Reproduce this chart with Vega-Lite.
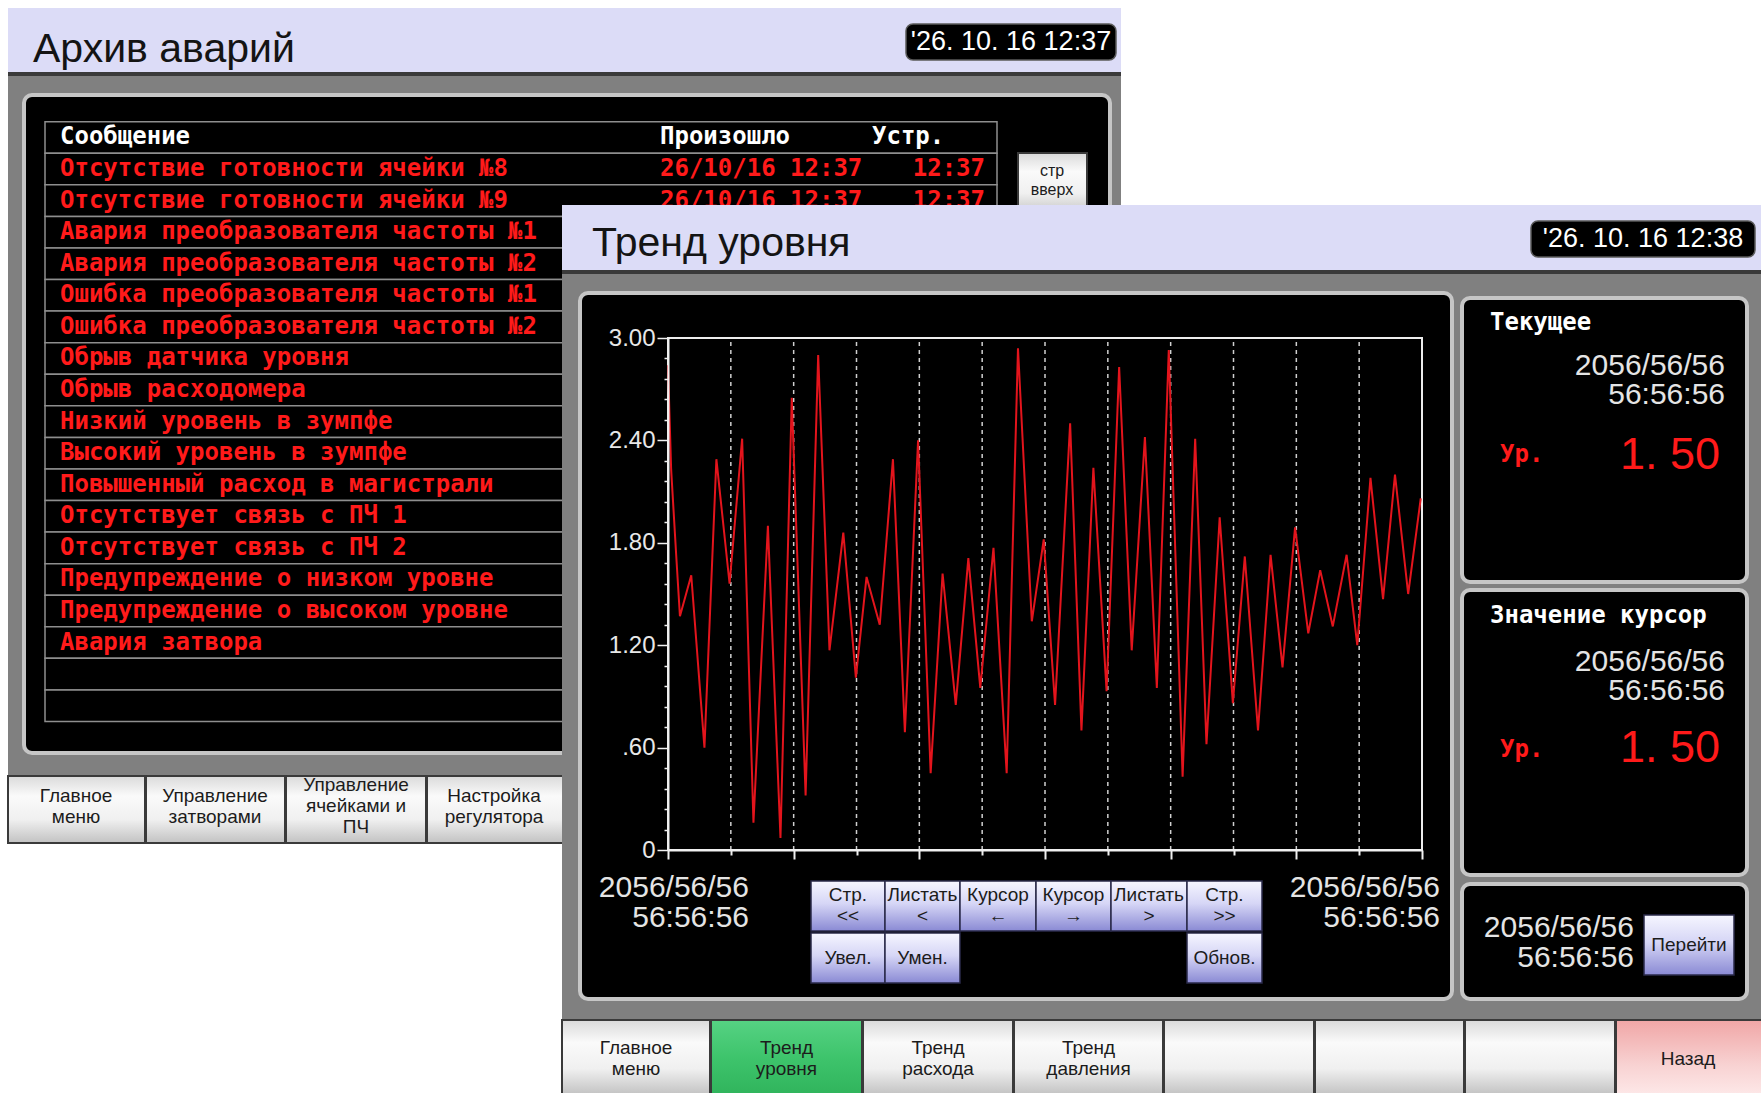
{
  "$schema": "https://vega.github.io/schema/vega-lite/v6.json",
  "width": 1761,
  "height": 1093,
  "padding": 0,
  "autosize": {"type": "none"},
  "background": "#ffffff",
  "config": {"view": {"stroke": null}},
  "datasets": {
    "boxes": [
      {"w": "a", "k": "lav", "x0": 8, "x1": 1121, "y0": 8, "y1": 73},
      {"w": "a", "k": "dark", "x0": 8, "x1": 1121, "y0": 72, "y1": 76},
      {"w": "a", "k": "gray", "x0": 8, "x1": 1121, "y0": 76, "y1": 843},
      {"w": "a", "k": "panel", "x0": 24, "x1": 1110, "y0": 95, "y1": 753},
      {"w": "a", "k": "date", "x0": 906, "x1": 1116, "y0": 24, "y1": 60},
      {"w": "a", "k": "gbtn", "x0": 1018, "x1": 1087, "y0": 153, "y1": 215},
      {"w": "a", "k": "gbtn", "x0": 8, "x1": 145, "y0": 776, "y1": 843},
      {"w": "a", "k": "gbtn", "x0": 146, "x1": 285, "y0": 776, "y1": 843},
      {"w": "a", "k": "gbtn", "x0": 286, "x1": 426, "y0": 776, "y1": 843},
      {"w": "a", "k": "gbtn", "x0": 427, "x1": 566, "y0": 776, "y1": 843},
      {"w": "b", "k": "lav", "x0": 562, "x1": 1761, "y0": 205, "y1": 271},
      {"w": "b", "k": "dark", "x0": 562, "x1": 1761, "y0": 270, "y1": 274},
      {"w": "b", "k": "gray", "x0": 562, "x1": 1761, "y0": 274, "y1": 1093},
      {"w": "b", "k": "panel", "x0": 580, "x1": 1452, "y0": 293, "y1": 999},
      {"w": "b", "k": "panel", "x0": 1462, "x1": 1747, "y0": 298, "y1": 582},
      {"w": "b", "k": "panel", "x0": 1462, "x1": 1747, "y0": 590, "y1": 875},
      {"w": "b", "k": "panel", "x0": 1462, "x1": 1747, "y0": 884, "y1": 999},
      {"w": "b", "k": "date", "x0": 1531, "x1": 1755, "y0": 221, "y1": 257},
      {"w": "b", "k": "vbtn", "x0": 811, "x1": 885, "y0": 881, "y1": 931},
      {"w": "b", "k": "vbtn", "x0": 885, "x1": 960, "y0": 881, "y1": 931},
      {"w": "b", "k": "vbtn", "x0": 960, "x1": 1036, "y0": 881, "y1": 931},
      {"w": "b", "k": "vbtn", "x0": 1036, "x1": 1111, "y0": 881, "y1": 931},
      {"w": "b", "k": "vbtn", "x0": 1111, "x1": 1187, "y0": 881, "y1": 931},
      {"w": "b", "k": "vbtn", "x0": 1187, "x1": 1262, "y0": 881, "y1": 931},
      {"w": "b", "k": "vbtn", "x0": 811, "x1": 885, "y0": 933, "y1": 983},
      {"w": "b", "k": "vbtn", "x0": 885, "x1": 960, "y0": 933, "y1": 983},
      {"w": "b", "k": "vbtn", "x0": 1187, "x1": 1262, "y0": 933, "y1": 983},
      {"w": "b", "k": "vbtn", "x0": 1644, "x1": 1734, "y0": 915, "y1": 975},
      {"w": "b", "k": "gbtn", "x0": 562, "x1": 710, "y0": 1020, "y1": 1095},
      {"w": "b", "k": "green", "x0": 711, "x1": 862, "y0": 1020, "y1": 1095},
      {"w": "b", "k": "gbtn", "x0": 863, "x1": 1013, "y0": 1020, "y1": 1095},
      {"w": "b", "k": "gbtn", "x0": 1014, "x1": 1163, "y0": 1020, "y1": 1095},
      {"w": "b", "k": "gbtn", "x0": 1164, "x1": 1314, "y0": 1020, "y1": 1095},
      {"w": "b", "k": "gbtn", "x0": 1315, "x1": 1464, "y0": 1020, "y1": 1095},
      {"w": "b", "k": "gbtn", "x0": 1465, "x1": 1615, "y0": 1020, "y1": 1095},
      {"w": "b", "k": "pink", "x0": 1616, "x1": 1763, "y0": 1020, "y1": 1095}
    ],
    "texts": [
      {"w": "a", "s": "title", "x": 33, "y": 62, "t": "Архив аварий"},
      {"w": "a", "s": "date", "x": 1011, "y": 42, "t": "'26. 10. 16 12:37"},
      {"w": "a", "s": "small", "x": 1052, "y": 171, "t": "стр\nвверх"},
      {"w": "a", "s": "btn", "x": 76, "y": 796, "t": "Главное\nменю"},
      {"w": "a", "s": "btn", "x": 215, "y": 796, "t": "Управление\nзатворами"},
      {"w": "a", "s": "btn", "x": 356, "y": 785, "t": "Управление\nячейками и\nПЧ"},
      {"w": "a", "s": "btn", "x": 494, "y": 796, "t": "Настройка\nрегулятора"},
      {"w": "b", "s": "title", "x": 592, "y": 256, "t": "Тренд уровня"},
      {"w": "b", "s": "date", "x": 1643, "y": 239, "t": "'26. 10. 16 12:38"},
      {"w": "b", "s": "hdr", "x": 1490, "y": 323, "t": "Текущее"},
      {"w": "b", "s": "dt", "x": 1725, "y": 366, "t": "2056/56/56"},
      {"w": "b", "s": "dt", "x": 1725, "y": 395, "t": "56:56:56"},
      {"w": "b", "s": "ur", "x": 1500, "y": 455, "t": "Ур."},
      {"w": "b", "s": "val", "x": 1720, "y": 455, "t": "1. 50"},
      {"w": "b", "s": "hdr", "x": 1490, "y": 616, "t": "Значение курсор"},
      {"w": "b", "s": "dt", "x": 1725, "y": 662, "t": "2056/56/56"},
      {"w": "b", "s": "dt", "x": 1725, "y": 691, "t": "56:56:56"},
      {"w": "b", "s": "ur", "x": 1500, "y": 750, "t": "Ур."},
      {"w": "b", "s": "val", "x": 1720, "y": 748, "t": "1. 50"},
      {"w": "b", "s": "dt", "x": 1634, "y": 928, "t": "2056/56/56"},
      {"w": "b", "s": "dt", "x": 1634, "y": 958, "t": "56:56:56"},
      {"w": "b", "s": "btn", "x": 1689, "y": 945, "t": "Перейти"},
      {"w": "b", "s": "dt", "x": 749, "y": 888, "t": "2056/56/56"},
      {"w": "b", "s": "dt", "x": 749, "y": 918, "t": "56:56:56"},
      {"w": "b", "s": "dt", "x": 1440, "y": 888, "t": "2056/56/56"},
      {"w": "b", "s": "dt", "x": 1440, "y": 918, "t": "56:56:56"},
      {"w": "b", "s": "btn", "x": 848, "y": 895, "t": "Стр.\n<<"},
      {"w": "b", "s": "btn", "x": 922.5, "y": 895, "t": "Листать\n<"},
      {"w": "b", "s": "btn", "x": 998, "y": 895, "t": "Курсор\n←"},
      {"w": "b", "s": "btn", "x": 1073.5, "y": 895, "t": "Курсор\n→"},
      {"w": "b", "s": "btn", "x": 1149, "y": 895, "t": "Листать\n>"},
      {"w": "b", "s": "btn", "x": 1224.5, "y": 895, "t": "Стр.\n>>"},
      {"w": "b", "s": "btn", "x": 848, "y": 958, "t": "Увел."},
      {"w": "b", "s": "btn", "x": 922.5, "y": 958, "t": "Умен."},
      {"w": "b", "s": "btn", "x": 1224.5, "y": 958, "t": "Обнов."},
      {"w": "b", "s": "btn", "x": 636, "y": 1048, "t": "Главное\nменю"},
      {"w": "b", "s": "btn", "x": 786.5, "y": 1048, "t": "Тренд\nуровня"},
      {"w": "b", "s": "btn", "x": 938, "y": 1048, "t": "Тренд\nрасхода"},
      {"w": "b", "s": "btn", "x": 1088.5, "y": 1048, "t": "Тренд\nдавления"},
      {"w": "b", "s": "btn", "x": 1688, "y": 1059, "t": "Назад"}
    ],
    "alarms": [
      {"row": 0, "msg": "Сообщение", "occ": "Произошло", "clr": "Устр."},
      {"row": 1, "msg": "Отсутствие готовности ячейки №8", "occ": "26/10/16 12:37", "clr": "12:37"},
      {"row": 2, "msg": "Отсутствие готовности ячейки №9", "occ": "26/10/16 12:37", "clr": "12:37"},
      {"row": 3, "msg": "Авария преобразователя частоты №1", "occ": "", "clr": ""},
      {"row": 4, "msg": "Авария преобразователя частоты №2", "occ": "", "clr": ""},
      {"row": 5, "msg": "Ошибка преобразователя частоты №1", "occ": "", "clr": ""},
      {"row": 6, "msg": "Ошибка преобразователя частоты №2", "occ": "", "clr": ""},
      {"row": 7, "msg": "Обрыв датчика уровня", "occ": "", "clr": ""},
      {"row": 8, "msg": "Обрыв расходомера", "occ": "", "clr": ""},
      {"row": 9, "msg": "Низкий уровень в зумпфе", "occ": "", "clr": ""},
      {"row": 10, "msg": "Высокий уровень в зумпфе", "occ": "", "clr": ""},
      {"row": 11, "msg": "Повышенный расход в магистрали", "occ": "", "clr": ""},
      {"row": 12, "msg": "Отсутствует связь с ПЧ 1", "occ": "", "clr": ""},
      {"row": 13, "msg": "Отсутствует связь с ПЧ 2", "occ": "", "clr": ""},
      {"row": 14, "msg": "Предупреждение о низком уровне", "occ": "", "clr": ""},
      {"row": 15, "msg": "Предупреждение о высоком уровне", "occ": "", "clr": ""},
      {"row": 16, "msg": "Авария затвора", "occ": "", "clr": ""},
      {"row": 17, "msg": "", "occ": "", "clr": ""},
      {"row": 18, "msg": "", "occ": "", "clr": ""}
    ],
    "grid": [{"g": 1}, {"g": 2}, {"g": 3}, {"g": 4}, {"g": 5}, {"g": 6}, {"g": 7}, {"g": 8}, {"g": 9}, {"g": 10}, {"g": 11}],
    "trend": [
      {"t": 0, "v": 2.84}, {"t": 0.05, "v": 2.23}, {"t": 0.13, "v": 1.73}, {"t": 0.19, "v": 1.37},
      {"t": 0.37, "v": 1.61}, {"t": 0.58, "v": 0.6}, {"t": 0.77, "v": 2.29}, {"t": 0.98, "v": 1.56},
      {"t": 1.18, "v": 2.41}, {"t": 1.36, "v": 0.16}, {"t": 1.59, "v": 1.9}, {"t": 1.79, "v": 0.07},
      {"t": 1.97, "v": 2.65}, {"t": 2.19, "v": 0.32}, {"t": 2.39, "v": 2.9}, {"t": 2.57, "v": 1.17},
      {"t": 2.79, "v": 1.86}, {"t": 2.99, "v": 1.01}, {"t": 3.16, "v": 1.6}, {"t": 3.37, "v": 1.32},
      {"t": 3.58, "v": 2.29}, {"t": 3.77, "v": 0.69}, {"t": 3.98, "v": 2.4}, {"t": 4.18, "v": 0.45},
      {"t": 4.37, "v": 1.62}, {"t": 4.58, "v": 0.85}, {"t": 4.78, "v": 1.71}, {"t": 4.97, "v": 0.95},
      {"t": 5.18, "v": 1.77}, {"t": 5.39, "v": 0.45}, {"t": 5.57, "v": 2.94}, {"t": 5.79, "v": 1.34},
      {"t": 5.98, "v": 1.82}, {"t": 6.16, "v": 0.85}, {"t": 6.4, "v": 2.5}, {"t": 6.58, "v": 0.7},
      {"t": 6.77, "v": 2.24}, {"t": 6.98, "v": 0.93}, {"t": 7.18, "v": 2.83}, {"t": 7.38, "v": 1.17},
      {"t": 7.59, "v": 2.42}, {"t": 7.78, "v": 0.95}, {"t": 7.97, "v": 2.93}, {"t": 8.19, "v": 0.43},
      {"t": 8.39, "v": 2.41}, {"t": 8.57, "v": 0.62}, {"t": 8.78, "v": 1.95}, {"t": 8.99, "v": 0.86},
      {"t": 9.18, "v": 1.72}, {"t": 9.39, "v": 0.7}, {"t": 9.59, "v": 1.73}, {"t": 9.78, "v": 1.07},
      {"t": 9.98, "v": 1.89}, {"t": 10.19, "v": 1.27}, {"t": 10.38, "v": 1.64}, {"t": 10.58, "v": 1.31},
      {"t": 10.8, "v": 1.73}, {"t": 10.97, "v": 1.2}, {"t": 11.18, "v": 2.18}, {"t": 11.38, "v": 1.47},
      {"t": 11.57, "v": 2.2}, {"t": 11.78, "v": 1.5}, {"t": 11.98, "v": 2.06}
    ]
  },
  "layer": [
    {
      "layer": [
        {
          "data": {"name": "boxes"},
          "transform": [{"filter": "datum.w === 'a' && (datum.k === 'lav' || datum.k === 'dark' || datum.k === 'gray')"}],
          "mark": {"type": "rect"},
          "encoding": {
            "x": {"field": "x0", "type": "quantitative", "scale": {"domain": [0, 1761], "range": [0, 1761], "nice": false, "zero": false}, "axis": null, "title": null},
            "x2": {"field": "x1"},
            "y": {"field": "y0", "type": "quantitative", "scale": {"domain": [0, 1093], "range": [0, 1093], "nice": false, "zero": false}, "axis": null, "title": null},
            "y2": {"field": "y1"},
            "color": {"field": "k", "type": "nominal", "scale": {"domain": ["lav", "dark", "gray"], "range": ["#dcdcf7", "#3a3a3a", "#808080"]}, "legend": null}
          }
        },
        {
          "data": {"name": "boxes"},
          "transform": [{"filter": "datum.w === 'a' && datum.k === 'panel'"}],
          "mark": {"type": "rect", "fill": "#000000", "stroke": "#c6c6c6", "strokeWidth": 4, "cornerRadius": 8},
          "encoding": {
            "x": {"field": "x0", "type": "quantitative", "title": null}, "x2": {"field": "x1"},
            "y": {"field": "y0", "type": "quantitative", "title": null}, "y2": {"field": "y1"}
          }
        },
        {
          "data": {"name": "boxes"},
          "transform": [{"filter": "datum.w === 'a' && datum.k === 'date'"}],
          "mark": {"type": "rect", "fill": "#000000", "stroke": "#5a5a5a", "strokeWidth": 1.5, "cornerRadius": 7},
          "encoding": {
            "x": {"field": "x0", "type": "quantitative", "title": null}, "x2": {"field": "x1"},
            "y": {"field": "y0", "type": "quantitative", "title": null}, "y2": {"field": "y1"}
          }
        },
        {
          "data": {"name": "boxes"},
          "transform": [{"filter": "datum.w === 'a' && datum.k === 'gbtn'"}],
          "mark": {"type": "rect", "stroke": "#3a3a3a", "strokeWidth": 2,
            "fill": {"gradient": "linear", "x1": 0, "y1": 0, "x2": 0, "y2": 1, "stops": [{"offset": 0, "color": "#dadada"}, {"offset": 0.3, "color": "#fafafa"}, {"offset": 0.65, "color": "#f0f0f0"}, {"offset": 1, "color": "#c2c2c2"}]}},
          "encoding": {
            "x": {"field": "x0", "type": "quantitative", "title": null}, "x2": {"field": "x1"},
            "y": {"field": "y0", "type": "quantitative", "title": null}, "y2": {"field": "y1"}
          }
        },
        {
          "data": {"name": "texts"},
          "transform": [{"filter": "datum.w === 'a' && datum.s === 'title'"}],
          "mark": {"type": "text", "font": "Liberation Sans, sans-serif", "fontSize": 41, "color": "#141414", "align": "left", "baseline": "alphabetic"},
          "encoding": {"x": {"field": "x", "type": "quantitative", "title": null}, "y": {"field": "y", "type": "quantitative", "title": null}, "text": {"field": "t"}}
        },
        {
          "data": {"name": "texts"},
          "transform": [{"filter": "datum.w === 'a' && datum.s === 'date'"}],
          "mark": {"type": "text", "font": "Liberation Sans, sans-serif", "fontSize": 27, "color": "#ffffff", "align": "center", "baseline": "middle"},
          "encoding": {"x": {"field": "x", "type": "quantitative", "title": null}, "y": {"field": "y", "type": "quantitative", "title": null}, "text": {"field": "t"}}
        },
        {
          "data": {"name": "texts"},
          "transform": [{"filter": "datum.w === 'a' && datum.s === 'small'"}],
          "mark": {"type": "text", "font": "Liberation Sans, sans-serif", "fontSize": 16, "color": "#1c1c1c", "align": "center", "baseline": "middle", "lineBreak": "\n", "lineHeight": 19},
          "encoding": {"x": {"field": "x", "type": "quantitative", "title": null}, "y": {"field": "y", "type": "quantitative", "title": null}, "text": {"field": "t"}}
        },
        {
          "data": {"name": "texts"},
          "transform": [{"filter": "datum.w === 'a' && datum.s === 'btn'"}],
          "mark": {"type": "text", "font": "Liberation Sans, sans-serif", "fontSize": 19, "color": "#1c1c1c", "align": "center", "baseline": "middle", "lineBreak": "\n", "lineHeight": 21},
          "encoding": {"x": {"field": "x", "type": "quantitative", "title": null}, "y": {"field": "y", "type": "quantitative", "title": null}, "text": {"field": "t"}}
        }
      ]
    },
    {
      "data": {"name": "alarms"},
      "encoding": {
        "y": {"field": "row", "type": "ordinal", "title": null, "axis": null,
          "scale": {"type": "band", "domain": [0, 1, 2, 3, 4, 5, 6, 7, 8, 9, 10, 11, 12, 13, 14, 15, 16, 17, 18], "range": [121.7, 721.5], "paddingInner": 0, "paddingOuter": 0}}
      },
      "layer": [
        {
          "mark": {"type": "rect", "fill": "#000000", "stroke": "#8e8e8e", "strokeWidth": 1.5},
          "encoding": {
            "x": {"datum": 45, "type": "quantitative", "scale": {"domain": [0, 1761], "range": [0, 1761], "nice": false, "zero": false}, "axis": null, "title": null},
            "x2": {"datum": 997}
          }
        },
        {
          "mark": {"type": "text", "font": "DejaVu Sans Mono", "fontWeight": "bold", "fontSize": 24, "align": "left", "baseline": "middle"},
          "encoding": {
            "x": {"datum": 60, "type": "quantitative", "title": null},
            "text": {"field": "msg"},
            "color": {"condition": {"test": "datum.row === 0", "value": "#ffffff"}, "value": "#ff1a1a"}
          }
        },
        {
          "mark": {"type": "text", "font": "DejaVu Sans Mono", "fontWeight": "bold", "fontSize": 24, "align": "left", "baseline": "middle"},
          "encoding": {
            "x": {"datum": 660, "type": "quantitative", "title": null},
            "text": {"field": "occ"},
            "color": {"condition": {"test": "datum.row === 0", "value": "#ffffff"}, "value": "#ff1a1a"}
          }
        },
        {
          "transform": [{"filter": "datum.row === 0"}],
          "mark": {"type": "text", "font": "DejaVu Sans Mono", "fontWeight": "bold", "fontSize": 24, "align": "left", "baseline": "middle", "color": "#ffffff"},
          "encoding": {"x": {"datum": 872, "type": "quantitative", "title": null}, "text": {"field": "clr"}}
        },
        {
          "transform": [{"filter": "datum.row > 0"}],
          "mark": {"type": "text", "font": "DejaVu Sans Mono", "fontWeight": "bold", "fontSize": 24, "align": "right", "baseline": "middle", "color": "#ff1a1a"},
          "encoding": {"x": {"datum": 985, "type": "quantitative", "title": null}, "text": {"field": "clr"}}
        }
      ]
    },
    {
      "layer": [
        {
          "data": {"name": "boxes"},
          "transform": [{"filter": "datum.w === 'b' && (datum.k === 'lav' || datum.k === 'dark' || datum.k === 'gray')"}],
          "mark": {"type": "rect"},
          "encoding": {
            "x": {"field": "x0", "type": "quantitative", "scale": {"domain": [0, 1761], "range": [0, 1761], "nice": false, "zero": false}, "axis": null, "title": null},
            "x2": {"field": "x1"},
            "y": {"field": "y0", "type": "quantitative", "scale": {"domain": [0, 1093], "range": [0, 1093], "nice": false, "zero": false}, "axis": null, "title": null},
            "y2": {"field": "y1"},
            "color": {"field": "k", "type": "nominal", "scale": {"domain": ["lav", "dark", "gray"], "range": ["#dcdcf7", "#3a3a3a", "#808080"]}, "legend": null}
          }
        },
        {
          "data": {"name": "boxes"},
          "transform": [{"filter": "datum.w === 'b' && datum.k === 'panel'"}],
          "mark": {"type": "rect", "fill": "#000000", "stroke": "#c6c6c6", "strokeWidth": 4, "cornerRadius": 8},
          "encoding": {
            "x": {"field": "x0", "type": "quantitative", "title": null}, "x2": {"field": "x1"},
            "y": {"field": "y0", "type": "quantitative", "title": null}, "y2": {"field": "y1"}
          }
        },
        {
          "data": {"name": "boxes"},
          "transform": [{"filter": "datum.w === 'b' && datum.k === 'date'"}],
          "mark": {"type": "rect", "fill": "#000000", "stroke": "#5a5a5a", "strokeWidth": 1.5, "cornerRadius": 7},
          "encoding": {
            "x": {"field": "x0", "type": "quantitative", "title": null}, "x2": {"field": "x1"},
            "y": {"field": "y0", "type": "quantitative", "title": null}, "y2": {"field": "y1"}
          }
        },
        {
          "data": {"name": "boxes"},
          "transform": [{"filter": "datum.w === 'b' && datum.k === 'gbtn'"}],
          "mark": {"type": "rect", "stroke": "#3a3a3a", "strokeWidth": 2,
            "fill": {"gradient": "linear", "x1": 0, "y1": 0, "x2": 0, "y2": 1, "stops": [{"offset": 0, "color": "#dadada"}, {"offset": 0.3, "color": "#fafafa"}, {"offset": 0.65, "color": "#f0f0f0"}, {"offset": 1, "color": "#c2c2c2"}]}},
          "encoding": {
            "x": {"field": "x0", "type": "quantitative", "title": null}, "x2": {"field": "x1"},
            "y": {"field": "y0", "type": "quantitative", "title": null}, "y2": {"field": "y1"}
          }
        },
        {
          "data": {"name": "boxes"},
          "transform": [{"filter": "datum.w === 'b' && datum.k === 'green'"}],
          "mark": {"type": "rect", "stroke": "#3a3a3a", "strokeWidth": 2,
            "fill": {"gradient": "linear", "x1": 0, "y1": 0, "x2": 0, "y2": 1, "stops": [{"offset": 0, "color": "#56d283"}, {"offset": 0.5, "color": "#3ec46c"}, {"offset": 1, "color": "#30b45c"}]}},
          "encoding": {
            "x": {"field": "x0", "type": "quantitative", "title": null}, "x2": {"field": "x1"},
            "y": {"field": "y0", "type": "quantitative", "title": null}, "y2": {"field": "y1"}
          }
        },
        {
          "data": {"name": "boxes"},
          "transform": [{"filter": "datum.w === 'b' && datum.k === 'pink'"}],
          "mark": {"type": "rect", "stroke": "#3a3a3a", "strokeWidth": 2,
            "fill": {"gradient": "linear", "x1": 0, "y1": 0, "x2": 0, "y2": 1, "stops": [{"offset": 0, "color": "#f0a6a6"}, {"offset": 0.6, "color": "#f8d2d2"}, {"offset": 1, "color": "#fde8e8"}]}},
          "encoding": {
            "x": {"field": "x0", "type": "quantitative", "title": null}, "x2": {"field": "x1"},
            "y": {"field": "y0", "type": "quantitative", "title": null}, "y2": {"field": "y1"}
          }
        },
        {
          "data": {"name": "boxes"},
          "transform": [{"filter": "datum.w === 'b' && datum.k === 'vbtn'"}],
          "mark": {"type": "rect", "stroke": "#2a2a4a", "strokeWidth": 1.5,
            "fill": {"gradient": "linear", "x1": 0, "y1": 0, "x2": 0, "y2": 1, "stops": [{"offset": 0, "color": "#f6f6ff"}, {"offset": 0.45, "color": "#d6d6f6"}, {"offset": 1, "color": "#8a8ad4"}]}},
          "encoding": {
            "x": {"field": "x0", "type": "quantitative", "title": null}, "x2": {"field": "x1"},
            "y": {"field": "y0", "type": "quantitative", "title": null}, "y2": {"field": "y1"}
          }
        },
        {
          "data": {"name": "texts"},
          "transform": [{"filter": "datum.w === 'b' && datum.s === 'title'"}],
          "mark": {"type": "text", "font": "Liberation Sans, sans-serif", "fontSize": 41, "color": "#141414", "align": "left", "baseline": "alphabetic"},
          "encoding": {"x": {"field": "x", "type": "quantitative", "title": null}, "y": {"field": "y", "type": "quantitative", "title": null}, "text": {"field": "t"}}
        },
        {
          "data": {"name": "texts"},
          "transform": [{"filter": "datum.w === 'b' && datum.s === 'date'"}],
          "mark": {"type": "text", "font": "Liberation Sans, sans-serif", "fontSize": 27, "color": "#ffffff", "align": "center", "baseline": "middle"},
          "encoding": {"x": {"field": "x", "type": "quantitative", "title": null}, "y": {"field": "y", "type": "quantitative", "title": null}, "text": {"field": "t"}}
        },
        {
          "data": {"name": "texts"},
          "transform": [{"filter": "datum.w === 'b' && datum.s === 'hdr'"}],
          "mark": {"type": "text", "font": "DejaVu Sans Mono", "fontWeight": "bold", "fontSize": 24, "color": "#ffffff", "align": "left", "baseline": "middle"},
          "encoding": {"x": {"field": "x", "type": "quantitative", "title": null}, "y": {"field": "y", "type": "quantitative", "title": null}, "text": {"field": "t"}}
        },
        {
          "data": {"name": "texts"},
          "transform": [{"filter": "datum.w === 'b' && datum.s === 'dt'"}],
          "mark": {"type": "text", "font": "Liberation Sans, sans-serif", "fontSize": 30, "color": "#e4e4e4", "align": "right", "baseline": "middle"},
          "encoding": {"x": {"field": "x", "type": "quantitative", "title": null}, "y": {"field": "y", "type": "quantitative", "title": null}, "text": {"field": "t"}}
        },
        {
          "data": {"name": "texts"},
          "transform": [{"filter": "datum.w === 'b' && datum.s === 'ur'"}],
          "mark": {"type": "text", "font": "DejaVu Sans Mono", "fontWeight": "bold", "fontSize": 24, "color": "#ff1a1a", "align": "left", "baseline": "middle"},
          "encoding": {"x": {"field": "x", "type": "quantitative", "title": null}, "y": {"field": "y", "type": "quantitative", "title": null}, "text": {"field": "t"}}
        },
        {
          "data": {"name": "texts"},
          "transform": [{"filter": "datum.w === 'b' && datum.s === 'val'"}],
          "mark": {"type": "text", "font": "Liberation Sans, sans-serif", "fontSize": 45, "color": "#ff1a1a", "align": "right", "baseline": "middle"},
          "encoding": {"x": {"field": "x", "type": "quantitative", "title": null}, "y": {"field": "y", "type": "quantitative", "title": null}, "text": {"field": "t"}}
        },
        {
          "data": {"name": "texts"},
          "transform": [{"filter": "datum.w === 'b' && datum.s === 'btn'"}],
          "mark": {"type": "text", "font": "Liberation Sans, sans-serif", "fontSize": 19, "color": "#1c1c1c", "align": "center", "baseline": "middle", "lineBreak": "\n", "lineHeight": 21},
          "encoding": {"x": {"field": "x", "type": "quantitative", "title": null}, "y": {"field": "y", "type": "quantitative", "title": null}, "text": {"field": "t"}}
        }
      ]
    },
    {
      "layer": [
        {
          "data": {"name": "grid"},
          "mark": {"type": "rule", "color": "#cfcfcf", "strokeDash": [4, 4], "strokeWidth": 1.5},
          "encoding": {
            "x": {"field": "g", "type": "quantitative", "title": null, "scale": {"domain": [0, 12], "range": [668, 1422], "nice": false, "zero": false}},
            "y": {"datum": 0, "type": "quantitative", "title": null, "scale": {"domain": [0, 3], "range": [850, 338], "nice": false, "zero": false}},
            "y2": {"datum": 3}
          }
        },
        {
          "data": {"values": [{"f": 1}]},
          "mark": {"type": "rect", "filled": false, "stroke": "#ececec", "strokeWidth": 2},
          "encoding": {
            "x": {"datum": 0, "type": "quantitative", "title": null}, "x2": {"datum": 12},
            "y": {"datum": 0, "type": "quantitative", "title": null}, "y2": {"datum": 3}
          }
        },
        {
          "data": {"name": "trend"},
          "mark": {"type": "line", "color": "#e3141c", "strokeWidth": 2},
          "encoding": {
            "x": {"field": "t", "type": "quantitative", "title": null,
              "axis": {"orient": "bottom", "offset": -243, "zindex": 1, "values": [0, 1, 2, 3, 4, 5, 6, 7, 8, 9, 10, 11, 12], "labels": false, "title": null, "grid": false,
                "domainColor": "#f0f0f0", "domainWidth": 2, "tickColor": "#f0f0f0", "tickWidth": 2,
                "tickSize": {"condition": {"test": "datum.value % 2 === 0", "value": 9}, "value": 5}}},
            "y": {"field": "v", "type": "quantitative", "title": null,
              "axis": {"orient": "left", "offset": -668, "zindex": 1, "title": null, "grid": false,
                "values": [0, 0.12, 0.24, 0.36, 0.48, 0.6, 0.72, 0.84, 0.96, 1.08, 1.2, 1.32, 1.44, 1.56, 1.68, 1.8, 1.92, 2.04, 2.16, 2.28, 2.4, 2.52, 2.64, 2.76, 2.88, 3],
                "labelExpr": "abs(datum.value*5/3 - round(datum.value*5/3)) < 0.01 ? (datum.value == 0 ? '0' : (datum.value < 1 ? '.60' : format(datum.value, '.2f'))) : ''",
                "labelOverlap": false, "labelBound": false,
                "labelFont": "Liberation Sans, sans-serif", "labelFontSize": 24, "labelColor": "#e8e8e8", "labelPadding": 2,
                "domainColor": "#f0f0f0", "domainWidth": 2, "tickColor": "#f0f0f0", "tickWidth": 1.5,
                "tickSize": {"condition": {"test": "abs(datum.value*5/3 - round(datum.value*5/3)) < 0.01", "value": 11}, "value": 4}}}
          }
        }
      ]
    }
  ],
  "resolve": {"scale": {"x": "independent", "y": "independent"}}
}
